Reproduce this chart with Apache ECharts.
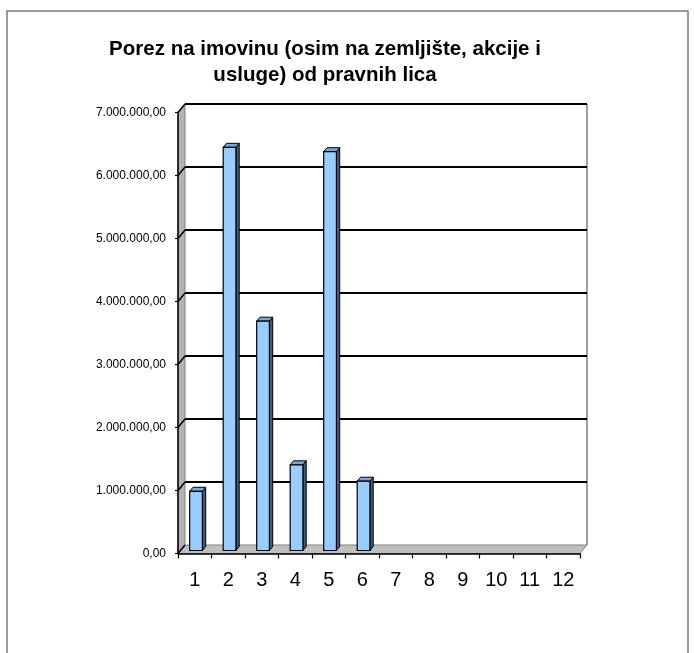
<!DOCTYPE html>
<html><head><meta charset="utf-8">
<script src="https://cdn.jsdelivr.net/npm/echarts@6/dist/echarts.min.js"></script>
<style>html,body{margin:0;padding:0;background:#fff}#c{width:694px;height:653px}</style>
</head><body><div id="c"></div>
<script>
const categories = ['1','2','3','4','5','6','7','8','9','10','11','12'];
const values = [940000, 6400000, 3640000, 1360000, 6330000, 1100000, null, null, null, null, null, null];
const yTicks = [0, 1000000, 2000000, 3000000, 4000000, 5000000, 6000000, 7000000];
const titleText = 'Porez na imovinu (osim na zemljište, akcije i\nusluge) od pravnih lica';

const FONT = '"Liberation Sans", Arial, sans-serif';
const DX = 7, DY = -8.5;      // wall depth
const BOFF_Y = -3;            // bar front face vertical offset
const BDX = 3.3, BDY = -4;    // bar depth

function fmt(v){
  return Math.round(v).toString().replace(/\B(?=(\d{3})+(?!\d))/g, '.') + ',00';
}

function renderWalls(params, api){
  const cs = params.coordSys;
  const x0 = cs.x, x1 = cs.x + cs.width, yb = cs.y + cs.height, yt = cs.y;
  const ch = [];
  ch.push({type:'polygon', shape:{points:[[x0,yb],[x0,yt],[x0+DX,yt+DY],[x0+DX,yb+DY]]},
    style:{fill:'#b3b3b3', stroke:'#808080', lineWidth:1}});
  ch.push({type:'polygon', shape:{points:[[x0,yb],[x1,yb],[x1+DX,yb+DY],[x0+DX,yb+DY]]},
    style:{fill:'#c0c0c0', stroke:'#808080', lineWidth:1}});
  ch.push({type:'line', shape:{x1:x1+DX, y1:yb+DY, x2:x1+DX, y2:yt+DY},
    style:{stroke:'#808080', lineWidth:1.5}});
  yTicks.forEach(function(v){
    const y = api.coord([0, v])[1];
    if (v > 0) ch.push({type:'line', shape:{x1:x0+DX, y1:y+DY, x2:x1+DX, y2:y+DY},
      style:{stroke:'#000', lineWidth:2}});
    ch.push({type:'line', shape:{x1:x0, y1:y, x2:x0+DX, y2:y+DY},
      style:{stroke:'#000', lineWidth:1.5}});
  });
  return {type:'group', children: ch};
}

function renderBar(params, api){
  const v = api.value(1);
  if (v == null || isNaN(v)) return;
  const i = api.value(0);
  const c = api.coord([i, v]);
  const base = api.coord([i, 0]);
  const band = api.size([1, 0])[0];
  const w = band * 0.38;
  const L = c[0] - w/2 + 1.3, R = L + w;
  const T = c[1] + BOFF_Y, B = base[1] + BOFF_Y;
  return {type:'group', children:[
    {type:'polygon', shape:{points:[[R,T],[R+BDX,T+BDY],[R+BDX,B+BDY],[R,B]]},
      style:{fill:'#3f5c7a', stroke:'#000', lineWidth:1}},
    {type:'polygon', shape:{points:[[L,T],[R,T],[R+BDX,T+BDY],[L+BDX,T+BDY]]},
      style:{fill:'#7aa6d4', stroke:'#000', lineWidth:1}},
    {type:'rect', shape:{x:L, y:T, width:w, height:B-T},
      style:{fill:'#99ccff', stroke:'#000', lineWidth:1.2}}
  ]};
}

const chart = echarts.init(document.getElementById('c'), null, {renderer:'canvas'});
chart.setOption({
  animation:false,
  backgroundColor:'#fff',
  title:{text:titleText, left:325, top:36, padding:0, textAlign:'center',
    textStyle:{fontFamily:FONT, fontSize:20.5, fontWeight:'bold', lineHeight:26, color:'#000'}},
  graphic:[{type:'rect', shape:{x:7, y:11, width:681, height:700},
    style:{fill:'none', stroke:'#7a7a7a', lineWidth:1.5}, z:-10}],
  grid:{left:178, top:112.5, width:402, height:441, containLabel:false},
  xAxis:{type:'category', data:categories, z:5,
    axisLine:{show:true, lineStyle:{color:'#000', width:1.5}},
    axisTick:{show:true, length:5, lineStyle:{color:'#000', width:1.2}},
    axisLabel:{fontFamily:FONT, fontSize:20, color:'#000', margin:17},
    splitLine:{show:false}},
  yAxis:{type:'value', min:0, max:7000000, interval:1000000, z:5,
    axisLine:{show:true, lineStyle:{color:'#000', width:1.5}},
    axisTick:{show:true, length:3, lineStyle:{color:'#000', width:1.2}},
    axisLabel:{fontFamily:FONT, fontSize:12, color:'#000', margin:12, formatter:fmt},
    splitLine:{show:false}},
  series:[
    {type:'custom', z:1, renderItem:renderWalls, data:[[0,0]], silent:true},
    {type:'custom', z:2, renderItem:renderBar,
      data: values.map(function(v, i){ return [i, v]; })}
  ]
});
</script></body></html>
